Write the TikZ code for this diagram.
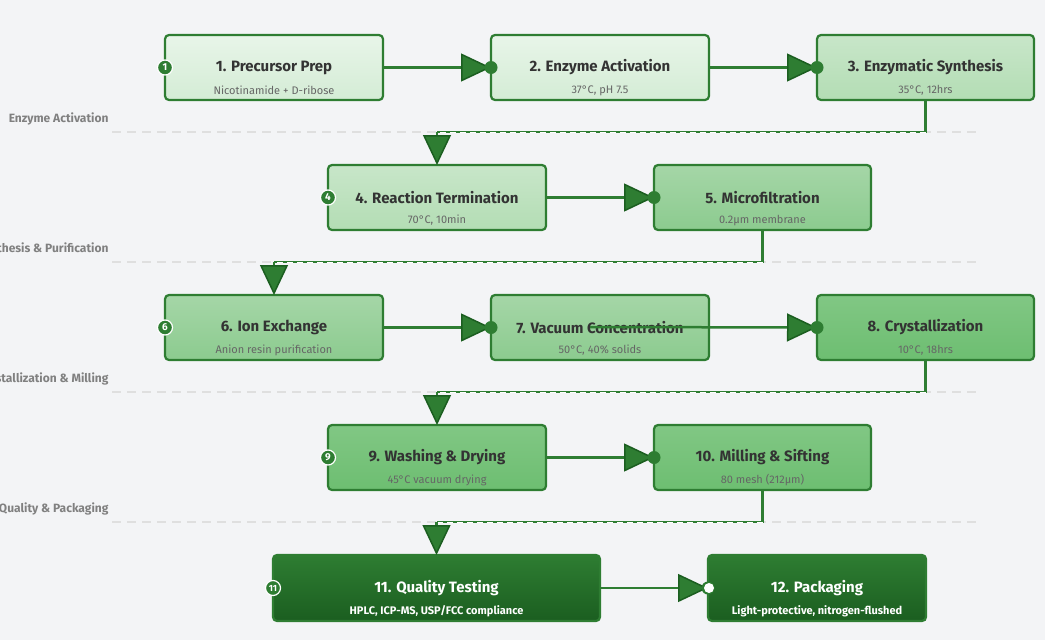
\documentclass[tikz,border=0pt]{standalone}
\usepackage{fontspec}
\setmainfont{Fira Sans}
\usetikzlibrary{arrows.meta,calc}
\definecolor{bg}{HTML}{F3F4F6}
\definecolor{gd}{HTML}{2E7D32}
\definecolor{gdd}{HTML}{1B5E20}
\definecolor{tx}{HTML}{333333}
\definecolor{st}{HTML}{666666}
\definecolor{c1}{HTML}{E8F5E9}\definecolor{c1b}{HTML}{D4ECD5}
\definecolor{c2}{HTML}{C8E6C9}\definecolor{c2b}{HTML}{B3DDB4}
\definecolor{c3}{HTML}{A5D6A7}\definecolor{c3b}{HTML}{8CCB8F}
\definecolor{c4}{HTML}{81C784}\definecolor{c4b}{HTML}{6DBE71}
\tikzset{
 ttl/.style={font=\fontsize{15}{15}\selectfont\bfseries,text=tx},
 sub/.style={font=\fontsize{11}{11}\selectfont,text=st},
 flow/.style={draw=gd,line width=2.5pt,-{Triangle[length=30pt,width=28pt,fill=gd,line width=1.5pt,color=gdd,fill=gd]}},
 dot/.style={circle,fill=gd,draw=white,line width=1.2pt,inner sep=0pt,minimum size=15pt,text=white,font=\fontsize{10}{10}\selectfont\bfseries},
 tdot/.style={circle,fill=gd,inner sep=0pt,minimum size=13pt},
 sep/.style={draw=gray!25,line width=1.5pt,dash pattern=on 9pt off 6pt},
 seplab/.style={anchor=south east,font=\fontsize{12}{12}\selectfont\bfseries,text=gray},
}
\newcommand{\stepbox}[8]{% name, x1, y1, x2, y2, fill top, fill bottom, extra
  \shade[top color=#6,bottom color=#7,rounded corners=4pt] (#2,#3) rectangle (#4,#5);
  \draw[gd,line width=2.2pt,rounded corners=4pt] (#2,#3) rectangle (#4,#5);
  \coordinate (#1) at ({(#2+#4)/2},{(#3+#5)/2});
  \coordinate (#1w) at (#2,{(#3+#5)/2});
  \coordinate (#1e) at (#4,{(#3+#5)/2});
  \coordinate (#1n) at ({(#2+#4)/2},#3);
  \coordinate (#1s) at ({(#2+#4)/2},#5);
  #8}
\begin{document}
\begin{tikzpicture}[x=1pt,y=-1pt]
\fill[bg] (0,0) rectangle (1045,640);
\useasboundingbox (0,0) rectangle (1045,640);
\foreach \yy/\lab in {132/Enzyme Activation,262/Synthesis \& Purification,392/Crystallization \& Milling,522/Quality \& Packaging}{
  \draw[sep] (112,\yy) -- (980,\yy);
  \node[seplab] at (112,\yy-3) {\lab};
}
\stepbox{n1}{165}{35}{383}{100}{c1}{c1b}{}
\stepbox{n2}{491}{35}{709}{100}{c1}{c1b}{}
\stepbox{n3}{817}{35}{1034}{100}{c2}{c2b}{}
\stepbox{n4}{328}{165}{546}{230}{c2}{c2b}{}
\stepbox{n5}{654}{165}{871}{230}{c3}{c3b}{}
\stepbox{n6}{165}{295}{383}{360}{c3}{c3b}{}
\stepbox{n7}{491}{295}{709}{360}{c3}{c3b}{}
\stepbox{n8}{817}{295}{1034}{360}{c4}{c4b}{}
\stepbox{n9}{328}{425}{546}{490}{c4}{c4b}{}
\stepbox{n10}{654}{425}{871}{490}{c4}{c4b}{}
\stepbox{n11}{273}{555}{600}{621}{gd}{gdd}{}
\stepbox{n12}{708}{555}{926}{621}{gd}{gdd}{}
\foreach \n/\t/\s in {n1/1. Precursor Prep/Nicotinamide + D-ribose,n2/2. Enzyme Activation/37°C{,} pH 7.5,n3/3. Enzymatic Synthesis/35°C{,} 12hrs,n4/4. Reaction Termination/70°C{,} 10min,n5/5. Microfiltration/0.2μm membrane,n6/6. Ion Exchange/Anion resin purification,n7/7. Vacuum Concentration/50°C{,} 40\% solids,n8/8. Crystallization/10°C{,} 18hrs,n9/9. Washing \& Drying/45°C vacuum drying,n10/10. Milling \& Sifting/80 mesh (212μm)}{
  \node[ttl] (\n t) at ($(\n)+(0,0)$) {\t};
  \node[sub] (\n u) at ($(\n)+(0,23)$) {\s};
}
\node[ttl,text=white] (n11t) at ($(n11)+(0,0)$) {11. Quality Testing};
\node[sub,text=white,font=\fontsize{11}{11}\selectfont\bfseries] (n11u) at ($(n11)+(0,23)$) {HPLC, ICP-MS, USP/FCC compliance};
\node[ttl,text=white] (n12t) at ($(n12)+(0,0)$) {12. Packaging};
\node[sub,text=white,font=\fontsize{11}{11}\selectfont\bfseries] (n12u) at ($(n12)+(0,23)$) {Light-protective, nitrogen-flushed};
\foreach \a/\b in {n1/n2,n2/n3,n4/n5,n6/n7,n9/n10,n11/n12}{
  \draw[flow] (\a e) -- (\b w);
  \node[tdot] (\b d) at (\b w) {};
}
\coordinate (c7) at (590,327);
\draw[flow] (c7) -- (n8w);
\node[tdot] (n8d) at (n8w) {};
\node[circle,fill=white,inner sep=0pt,minimum size=10pt] (n12d) at ($(n12w)+(1,0)$) {};
\foreach \a/\b/\yy in {n3/n4/132,n5/n6/262,n8/n9/392,n10/n11/522}{
  \coordinate (\a k) at (\a s |- 0,\yy);
  \coordinate (\b k) at (\b n |- 0,\yy);
  \draw[gd,line width=2.5pt] (\a s) -- (\a k) -- (\b k);
  \draw[white,line width=0.8pt,dash pattern=on 6pt off 4pt] (\a k) -- (\b k);
  \draw[flow] (\b k) -- (\b n);
}
\foreach \n/\l in {n1/1,n4/4,n6/6,n9/9}{\node[dot] (\n p) at (n\l w) {\l};}
\node[dot,font=\fontsize{9}{9}\selectfont\bfseries] (n11p) at (n11w) {11};
\end{tikzpicture}
\end{document}
